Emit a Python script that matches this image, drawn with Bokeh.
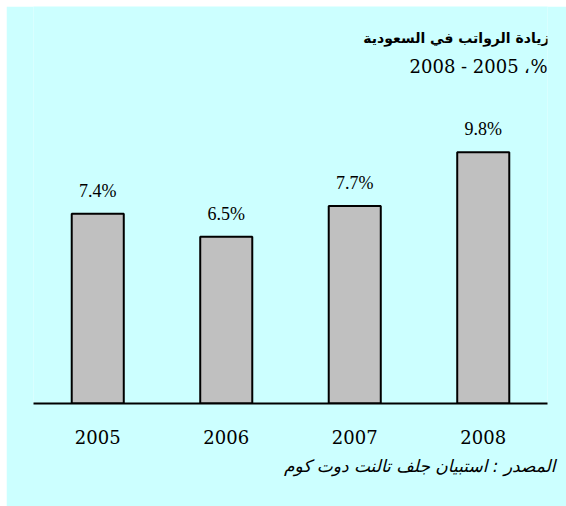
from bokeh.plotting import figure
from bokeh.models import ColumnDataSource, Range1d, Label, LabelSet, Title
from bokeh.embed import file_html
from bokeh.resources import INLINE

years = ["2005", "2006", "2007", "2008"]
values = [7.4, 6.5, 7.7, 9.8]
value_labels = ["7.4%", "6.5%", "7.7%", "9.8%"]

title_text = "زيادة الرواتب في السعودية"
subtitle_text = "2008 - 2005 ،%"
source_text = "المصدر : استبيان جلف تالنت دوت كوم"

BG = "#ccffff"
SERIF = "DejaVu Serif"
PX_PER_UNIT = 25.65
FRAME_H = 397

src = ColumnDataSource(dict(year=years, value=values, label=value_labels))

p = figure(width=560, height=500, x_range=years,
           y_range=Range1d(0, FRAME_H / PX_PER_UNIT),
           output_backend="svg", toolbar_location=None,
           y_axis_location=None, margin=(6, 0, 0, 6),
           min_border_left=27, min_border_right=19,
           min_border_top=0, min_border_bottom=103)
p.background_fill_color = BG
p.border_fill_color = BG
p.outline_line_color = None
p.grid.visible = False
p.x_range.range_padding = 0

p.vbar(x="year", top="value", width=0.405, source=src,
       fill_color="#c0c0c0", line_color="black", line_width=2)

p.add_layout(LabelSet(x="year", y="value", text="label", source=src,
                      text_align="center", text_baseline="alphabetic",
                      y_offset=17, text_font=SERIF, text_font_size="18px",
                      text_color="black"))

ax = p.xaxis[0]
ax.axis_line_color = "black"
ax.axis_line_width = 2
ax.major_tick_line_color = None
ax.minor_tick_line_color = None
ax.major_tick_out = 0
ax.major_tick_in = 0
ax.major_label_standoff = 26
ax.major_label_text_font = SERIF
ax.major_label_text_font_size = "18px"
ax.major_label_text_color = "black"

top = FRAME_H / PX_PER_UNIT
p.add_layout(Label(x=4, y=top - 31 / PX_PER_UNIT, text=title_text,
                   text_align="right", text_baseline="middle", x_offset=2,
                   text_font="DejaVu Sans", text_font_style="bold",
                   text_font_size="14px", text_color="black"))
p.add_layout(Label(x=4, y=top - 60 / PX_PER_UNIT, text=subtitle_text,
                   text_align="right", text_baseline="middle",
                   text_font=SERIF, text_font_size="18px", text_color="black"))

p.add_layout(Title(text=source_text, align="right", offset=-8, standoff=15,
                   text_font="DejaVu Sans", text_font_style="italic",
                   text_font_size="17px", text_color="black"), "below")

open("out.html", "w").write(file_html(p, INLINE))
